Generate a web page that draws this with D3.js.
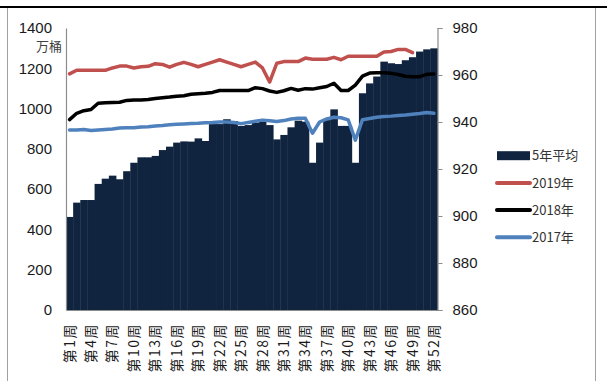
<!DOCTYPE html>
<html>
<head>
<meta charset="utf-8">
<script src="https://cdn.jsdelivr.net/npm/d3@7"></script>
<style>
  html, body { margin: 0; padding: 0; background: #fff; }
  svg { display: block; }
  text { font-family: "Liberation Sans", Arial, sans-serif; }
  .cjk { font-family: "Noto Sans CJK SC", "Liberation Sans", sans-serif; }
</style>
</head>
<body>
<svg id="chart" width="607" height="381"></svg>
<script>
// Weekly categories
const weeks = d3.range(1, 53).map(i => `第${i}周`);
const weekTickLabels = d3.range(1, 53, 3).map(i => `第${i}周`);

// 5-year average (万桶), left axis
const avg5y = [462, 533, 546, 546, 626, 652, 667, 649, 689, 731,
  758, 758, 765, 794, 811, 831, 837, 836, 852, 839,
  923, 923, 947, 938, 914, 918, 930, 947, 918, 847,
  869, 907, 940, 935, 731, 831, 943, 996, 914, 914,
  731, 1076, 1125, 1159, 1233, 1225, 1221, 1240, 1255, 1283,
  1294, 1299];

// Yearly series, right axis
const y2019 = [960.5, 962, 962, 962, 962, 962, 963, 963.8, 963.8, 963,
  963.5, 963.7, 964.8, 964.5, 963.3, 964.5, 965.4, 964.5, 963.5, 964.5,
  965.5, 966.5, 965.5, 964.5, 963.5, 964.5, 965.5, 963, 957, 965,
  965.7, 965.7, 965.7, 967.2, 966.7, 966.7, 966.7, 967.5, 966.5, 968,
  968, 968, 968, 968, 969.8, 970, 970.9, 970.9, 969.5];
const y2018 = [941, 943.7, 944.8, 945.3, 948, 948.2, 948.3, 948.4, 949.2, 949.4,
  949.4, 949.6, 950, 950.3, 950.6, 951, 951.2, 951.8, 952, 952.2,
  952.6, 953.4, 953.4, 953.4, 953.4, 953.4, 954.6, 954.2, 953.2, 952.6,
  953.3, 954.3, 953.5, 954.2, 954, 954.6, 955.1, 956.5, 953.4, 953.4,
  955.7, 959.5, 960.8, 961, 961, 960.7, 960.2, 959.5, 959.3, 959.3,
  960.3, 960.4];
const y2017 = [936.6, 936.6, 936.8, 936.4, 936.6, 936.8, 937, 937.4, 937.6, 937.6,
  937.9, 938, 938.3, 938.5, 938.8, 939, 939.2, 939.4, 939.5, 939.7,
  939.8, 940, 940, 939.8, 939.3, 939.8, 940.3, 940.8, 940.5, 940.2,
  940.6, 941.3, 941.6, 941.6, 935.2, 940, 941.3, 942, 941.8, 940.9,
  932.3, 941, 941.5, 942, 942.3, 942.5, 942.8, 943, 943.3, 943.6,
  944, 943.7];

const leftTicks = [0, 200, 400, 600, 800, 1000, 1200, 1400];
const rightTicks = [860, 880, 900, 920, 940, 960, 980];

const legendItems = [
  { label: "5年平均", color: "#10243f", type: "bar" },
  { label: "2019年", color: "#c0504d", type: "line" },
  { label: "2018年", color: "#000000", type: "line" },
  { label: "2017年", color: "#4f81bd", type: "line" }
];
const lineSeries = [
  { values: y2017, color: "#4f81bd" },
  { values: y2018, color: "#000000" },
  { values: y2019, color: "#c0504d" }
];

const svg = d3.select("#chart");
const plot = { left: 66, right: 437.5, top: 28, bottom: 310 };

// Outer frame
svg.append("line").attr("x1", 0).attr("x2", 607).attr("y1", 7).attr("y2", 7)
  .attr("stroke", "#000").attr("stroke-width", 2);
svg.append("line").attr("x1", 7.5).attr("x2", 7.5).attr("y1", 8).attr("y2", 381)
  .attr("stroke", "#a0a0a0").attr("stroke-width", 1);
svg.append("line").attr("x1", 595.5).attr("x2", 595.5).attr("y1", 8).attr("y2", 381)
  .attr("stroke", "#a0a0a0").attr("stroke-width", 1);

const x = d3.scaleBand().domain(weeks).range([plot.left, plot.right]).padding(0);
const yL = d3.scaleLinear().domain([0, 1400]).range([plot.bottom, plot.top]);
const yR = d3.scaleLinear().domain([860, 980]).range([plot.bottom, plot.top]);

// Bars: 5-year average
svg.append("g").selectAll("rect").data(avg5y).join("rect")
  .attr("x", (d, i) => x(weeks[i]))
  .attr("width", x.bandwidth() + 0.4)
  .attr("y", d => yL(d))
  .attr("height", d => yL(0) - yL(d))
  .attr("fill", "#10243f");

// Yearly lines
const line = d3.line()
  .x((d, i) => x(weeks[i]) + x.bandwidth() / 2)
  .y(d => yR(d));
svg.append("g").selectAll("path").data(lineSeries).join("path")
  .attr("d", s => line(s.values))
  .attr("fill", "none")
  .attr("stroke", s => s.color)
  .attr("stroke-width", 3.5)
  .attr("stroke-linejoin", "round")
  .attr("stroke-linecap", "round");

// Left axis
const gL = svg.append("g").attr("transform", `translate(${plot.left},0)`)
  .call(d3.axisLeft(yL).tickValues(leftTicks).tickFormat(d3.format("d"))
    .tickSize(0).tickPadding(14));
gL.select(".domain").attr("stroke", "#8c8c8c").attr("stroke-width", 1.2);
gL.selectAll("text").attr("font-size", 15).attr("fill", "#1a1a1a")
  .style("font-family", "'Liberation Sans', Arial, sans-serif");

// Right axis
const gR = svg.append("g").attr("transform", `translate(${plot.right},0)`)
  .call(d3.axisRight(yR).tickValues(rightTicks).tickFormat(d3.format("d"))
    .tickSize(5).tickPadding(10));
gR.select(".domain").attr("stroke", "#8c8c8c").attr("stroke-width", 1.2);
gR.selectAll("line").attr("stroke", "#8c8c8c");
gR.selectAll("text").attr("font-size", 15).attr("fill", "#1a1a1a")
  .style("font-family", "'Liberation Sans', Arial, sans-serif");

// Bottom axis with vertical week labels
const gB = svg.append("g").attr("transform", `translate(0,${plot.bottom})`)
  .call(d3.axisBottom(x).tickValues(weekTickLabels).tickSize(0));
gB.select(".domain").attr("stroke", "#8c8c8c").attr("stroke-width", 1.2);
gB.selectAll("text")
  .attr("class", "cjk")
  .attr("transform", "rotate(-90)")
  .attr("text-anchor", "end")
  .attr("x", -13).attr("y", 0).attr("dy", "0.36em")
  .attr("font-size", 14).attr("fill", "#1a1a1a")
  .style("letter-spacing", "1.5px")
  .style("font-family", "'Noto Sans CJK SC', sans-serif");

// Unit label, tucked under the top tick value
svg.append("text").attr("class", "cjk")
  .attr("x", 36).attr("y", 51)
  .attr("font-size", 13).attr("fill", "#404040")
  .text("万桶");

// Legend
const lg = svg.append("g").selectAll("g").data(legendItems).join("g")
  .attr("transform", (d, i) => `translate(497,${155.7 + i * 27.2})`);
lg.filter(d => d.type === "bar").append("rect")
  .attr("x", 0).attr("y", -4.5).attr("width", 33).attr("height", 9)
  .attr("fill", d => d.color);
lg.filter(d => d.type === "line").append("line")
  .attr("x1", 0).attr("x2", 33).attr("y1", 0).attr("y2", 0)
  .attr("stroke", d => d.color).attr("stroke-width", 4)
  .attr("stroke-linecap", "round");
lg.append("text").attr("class", "cjk")
  .attr("x", 35).attr("dy", "0.36em")
  .attr("font-size", 13).attr("fill", "#333")
  .text(d => d.label);
</script>
</body>
</html>
